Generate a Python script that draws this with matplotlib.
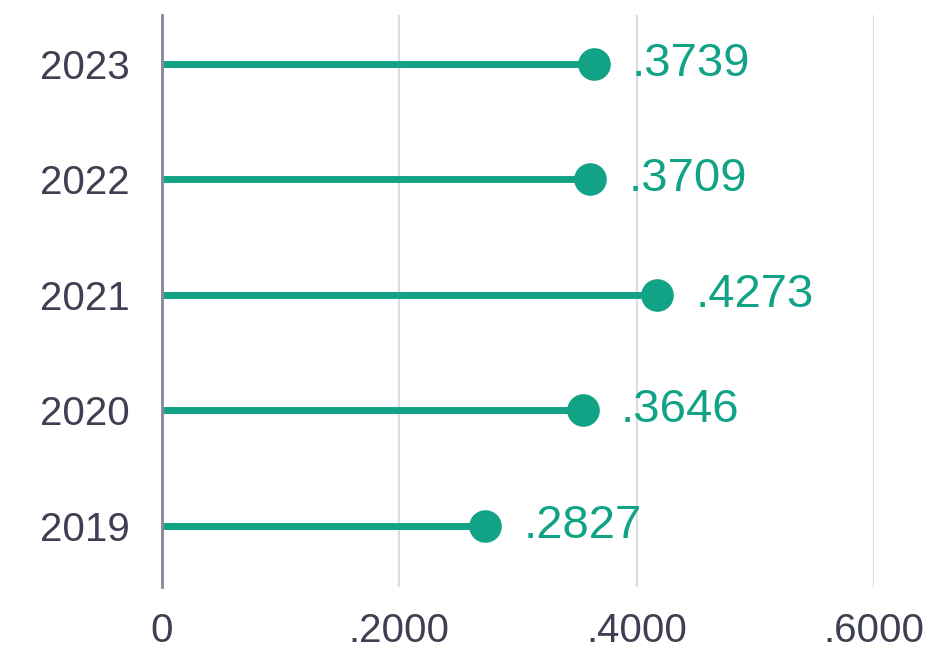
import matplotlib.pyplot as plt
import matplotlib.transforms as mtransforms
from matplotlib.ticker import FuncFormatter

# data
years = ['2019', '2020', '2021', '2022', '2023']
values = [0.2827, 0.3646, 0.4273, 0.3709, 0.3739]
x_ticks = [0, 0.2, 0.4, 0.6]

teal = '#12a386'
dark = '#3d3f52'

plt.rcParams['font.family'] = ['Liberation Sans', 'DejaVu Sans']

fig = plt.figure(figsize=(9.38, 6.52), dpi=100)
ax = fig.add_axes([162 / 938, 1 - 587 / 652, (874 - 162) / 938, (587 - 15) / 652])

ypos = list(range(len(years)))

# dots sit a little left of the value in the original
shift = mtransforms.ScaledTranslation(-12 / 100, 0, fig.dpi_scale_trans)
for y, v in zip(ypos, values):
    ax.plot([0, v], [y, y], color=teal, lw=5, solid_capstyle='butt',
            transform=ax.transData + shift, zorder=3)
    ax.plot([v], [y], 'o', color=teal, ms=23.5, mec='none',
            transform=ax.transData + shift, zorder=4)
    ax.annotate(f'.{round(v * 10000):04d}', (v, y), xytext=(19, 0),
                textcoords='offset points', ha='left', va='center',
                color=teal, fontsize=34)

ax.set_xlim(0, 0.6)
ax.set_ylim(-0.53, 4.42)
ax.set_yticks(ypos)
ax.set_yticklabels(years)
ax.set_xticks(x_ticks)
ax.xaxis.set_major_formatter(FuncFormatter(lambda v, p: '0' if v == 0 else f'.{round(v * 10000):04d}'))

ax.tick_params(axis='both', length=0, colors=dark, labelsize=29)
ax.tick_params(axis='y', pad=23)
ax.tick_params(axis='x', pad=18)

ax.grid(axis='x', color='#dcdde3', lw=1.6)
ax.set_axisbelow(True)
for s in ['top', 'right', 'bottom']:
    ax.spines[s].set_visible(False)
ax.spines['left'].set_color('#85879a')
ax.spines['left'].set_linewidth(2)
ax.spines['left'].set_zorder(5)

fig.savefig('out.png', dpi=100)
